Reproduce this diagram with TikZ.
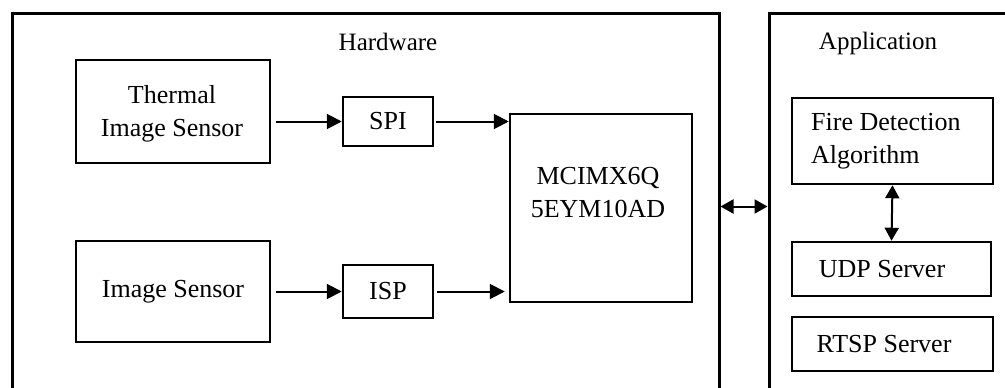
\documentclass[tikz,border=0pt]{standalone}
\usepackage{fontspec}
\setmainfont{Liberation Serif}
\usetikzlibrary{arrows.meta,positioning,calc}

\begin{document}
\begin{tikzpicture}[
    x=1pt, y=-1pt,
    font=\fontsize{26}{33}\selectfont,
    >={Triangle[length=15pt, width=15pt]},
    panel/.style={draw=black, line width=3pt, minimum height=387pt},
    block/.style={draw=black, line width=2.5pt, align=center, inner sep=0pt},
    flow/.style={->, line width=2pt},
    link/.style={{Triangle[length=13pt, width=14pt]}-{Triangle[length=13pt, width=14pt]}, line width=2pt},
    title/.style={font=\fontsize{25}{30}\selectfont},
]
    \useasboundingbox (0,0) rectangle (1005,388);
    \clip (0,0) rectangle (1005,388);

    % --- Containers ---
    \node[panel, minimum width=707pt] (hw) at (365.5, 206.5) {};
    \node[panel, minimum width=271pt] (app) at (904.5, 206.5) {};
    \node[title] (hwtitle) at (388, 42) {Hardware};
    \node[title] (apptitle) at (878, 43) {Application};

    % --- Hardware side ---
    \node[block, minimum width=194pt, minimum height=103pt] (thermal) at (173, 111.5) {};
    \node[align=center, inner sep=0pt] (thermaltext) at (172, 114) {Thermal\\Image Sensor};
    \node[block, minimum width=194pt, minimum height=101pt] (image) at (173, 291.5) {Image Sensor};
    \node[block, minimum width=90pt, minimum height=49pt] (spi) at (388, 121.5) {SPI};
    \node[block, minimum width=90pt, minimum height=53pt] (isp) at (388, 291.5) {ISP};
    \node[block, minimum width=182pt, minimum height=188pt] (mcu) at (601, 208) {};
    \node[align=center, inner sep=0pt] (mcutext) at (598, 193) {MCIMX6Q\\5EYM10AD};

    % --- Application side ---
    \node[block, minimum width=201pt, minimum height=86pt] (fire) at (892.5, 141) {};
    \node[align=left, inner sep=0pt, anchor=west] (firetext) at (811, 141) {Fire Detection\\Algorithm};
    \node[block, minimum width=199pt, minimum height=54pt] (udp) at (891.5, 269) {};
    \node[inner sep=0pt] (udptext) at (882, 269) {UDP Server};
    \node[block, minimum width=201pt, minimum height=54pt] (rtsp) at (892.5, 344) {};
    \node[inner sep=0pt] (rtsptext) at (884, 344) {RTSP Server};

    % --- Connections ---
    \draw[flow, shorten <=5pt] (spi.west -| thermal.east) -- (spi.west);
    \draw[flow, shorten <=5pt] (image.east) -- (isp.west);
    \draw[flow, shorten <=2pt] (spi.east) -- (spi.east -| mcu.west);
    \draw[flow, shorten <=3pt, shorten >=4pt] (isp.east) -- (isp.east -| mcu.west);
    \draw[link] (hw.east) -- (app.west);
    \draw[link] (fire.south) -- (udp.north);

\end{tikzpicture}
\end{document}
